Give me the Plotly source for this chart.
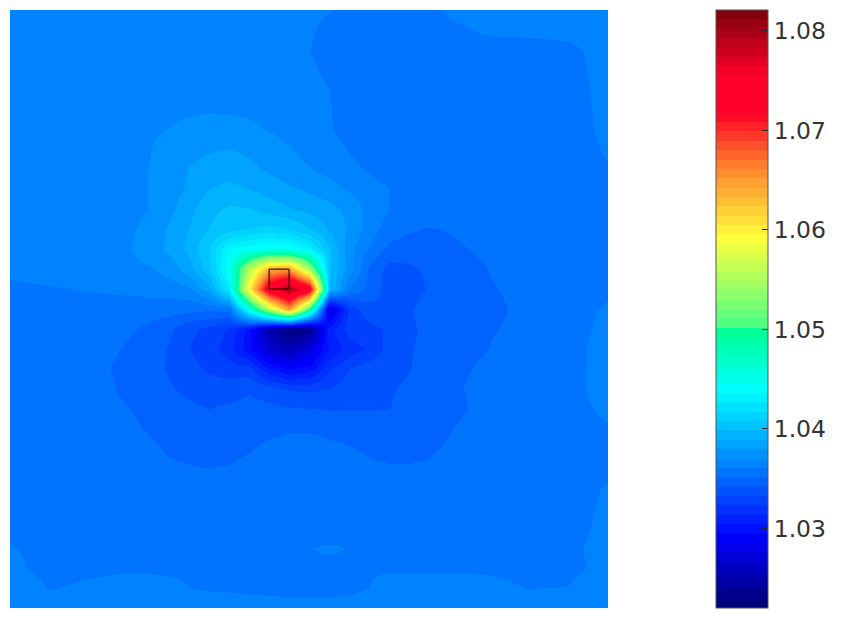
import numpy as np
import plotly.graph_objects as go

# Grid nodes in domain units (domain is 30 x 30, the marked square is one unit wide)
x_nodes = [0, 2, 4, 6, 7, 8, 9, 10, 11, 12, 13, 14, 15, 16, 17, 18, 19, 20, 21, 22, 24, 26, 28, 30]
y_nodes = [0, 2, 4, 6, 7, 8, 9, 10, 11, 12, 13, 14, 15, 16, 17, 18, 19, 20, 21, 22, 24, 26, 27, 28, 29, 30]

# Values, as (z - 1) * 10000, top row first
r00 = [366,366,366,366,366,366,366,366,366,366,365,364,362,361,359,358,358,358,359,362,366,367,367,367]
r02 = [366,366,366,366,366,366,366,366,366,365,364,363,361,358,357,357,356,356,356,356,358,358,359,364]
r04 = [366,366,366,366,367,367,366,366,366,366,365,364,363,361,358,357,356,356,356,356,356,356,357,364]
r06 = [366,366,366,367,369,370.5,372.5,373.5,373,372,370,367,364,361.5,358,356,355,355,355,355,355,355,357,363]
r07 = [366,366,367,368,370,374,377,379,380,378,375,371,367,364,360.5,357,355,354,354,354,354,354,356,362]
r08 = [366,366,367,369,370.5,375,380,383,385,382,378,374,371,367,363,360,357,355,354,354,354,354,354,360]
r09 = [366,366,366,368,370.5,376,381,389,392,389,385,381,378,374,369,364,361,357,356,355,354,354,354,359]
r10 = [366,366,366,368,370.5,377,386,396,400,399,394,390,386,383,377,367,360.5,357,356,355,354,354,354,358]
r11 = [366,366,366,369,373,381,389.5,399,404,408,411,408,399,388,378,366,356,352.5,351,352,354,354,354,358]
r12 = [365,366,367,370,376,381.5,392,408,436,443,448,445,432,400,373,360,349,347.5,347.5,350,353,354,354,360]
r13 = [363,365,366,368,369,374,385,405,445,553,640,650,546,400,375,350,338,340,344,348,351.5,354,354,361]
r14 = [359,360,361.5,363,364,365,368,385,428,595,750,800,745,400,360,349,337,338,343,347,351,353,354,358]
r15 = [358,358,357,356,355.5,355.5,354.5,353.5,356,450,555,650,500,270,326,338,341,341,347,349,350,353,355,363]
r16 = [358,357,356,352.5,349,344,335,330,322,300,250,225,232,310,328,330,334,340,345,348,351,353,354,366]
r17 = [358,357,356,350,347,341,332.5,328,318,298,268,255,275,305,318,325,336,341,346,349,351.5,354,355,368]
r18 = [358,357,355,348,345,341,336,331,328,328,305,295,300,322,333,338,339,341.5,347,350,352.5,355,355,368]
r19 = [358,357,356,349,346,343,340,338,338,341,338,332,331,333,337,340,341,344,347,350,354,356,356,367]
r20 = [358,357,356,351.5,349,347,344,342,344,345,344,343,342.5,341.5,341.5,341.5,342,345,347,349,354,357,357,363]
r21 = [358,357,356,353,350.5,349,348,347,348,349,350,351,351,350,349,348,348,348,349,351,356,357,358,360]
r22 = [358,358,357,355,353,350.5,349.5,349,349.5,351,353,354,354,353,352,350.5,350,350,350.5,352.5,356,358,359,358]
r24 = [358,358,358,358,358,355,354.5,354,354.5,356,358,358,358,358,358,355,354,354,354.5,356,358,358,358,361.5]
r26 = [360,359,359,359,359,359,359,359,359,359,359,359,359,359,359,359,359,359,359,359,359,359,358,363]
r27 = [361,360,360,360,360,360,360,360,360,360,360,360,360.8,361.3,360.8,360,360,360,360,360,360,360,359,364]
r28 = [362,359,359.5,360,360,360,360,360,360,360,360,360,360,360,360,360,360,360,360,360,360,359,359,363]
r29 = [365,360.5,362,364,363,362,361,360,359.8,359.5,359,358.5,358.5,358.5,359,361,364,364,364,364,362.5,360.8,361,368]
r30 = [366,366,366,366,366,366,366,366,365,364,364,364,364,364,364,365,366,366,366,366,366,366,366,368]

rows = [r00, r02, r04, r06, r07, r08, r09, r10, r11, r12, r13, r14, r15, r16, r17,
        r18, r19, r20, r21, r22, r24, r26, r27, r28, r29, r30]
z = 1 + np.array(rows, dtype=float) / 1e4

tick_values = [1.03, 1.04, 1.05, 1.06, 1.07, 1.08]
z_min, z_max = 1.022, 1.0821
marked_cell = [13, 14, 13, 14]

# Colour map anchors (position along the bar, r, g, b)
cmap_pos = [0.0, 0.01, 0.1185, 0.239, 0.364, 0.461, 0.477, 0.618, 0.74, 0.828, 0.89, 1.0]
cmap_r = [0, 0, 0, 0, 0, 0, 85, 255, 255, 255, 255, 125]
cmap_g = [0, 0, 0, 128, 255, 255, 255, 255, 128, 0, 0, 0]
cmap_b = [120, 125, 255, 255, 255, 150, 130, 60, 45, 40, 40, 10]

colorscale = []
for k in range(64):
    t = (k + 0.5) / 64
    c = "rgb({:.0f},{:.0f},{:.0f})".format(np.interp(t, cmap_pos, cmap_r),
                                           np.interp(t, cmap_pos, cmap_g),
                                           np.interp(t, cmap_pos, cmap_b))
    colorscale.append([k / 64, c])
    colorscale.append([(k + 1) / 64, c])

fig = go.Figure(go.Heatmap(
    x=x_nodes, y=y_nodes, z=z, zmin=z_min, zmax=z_max, zsmooth="best",
    colorscale=colorscale, hoverinfo="skip",
    colorbar=dict(
        x=(715.5 - 10) / 598, xanchor="left", y=1.0, yanchor="top",
        lenmode="fraction", len=1.0, thickness=52, thicknessmode="pixels",
        xpad=0, ypad=0, outlinecolor="#555555", outlinewidth=1,
        tickmode="array", tickvals=tick_values, tickformat=".2f",
        ticks="inside", ticklen=6, tickcolor="#262626", tickwidth=1,
        tickprefix="\u2009",
        tickfont=dict(family="DejaVu Sans", size=23.5, color="#333333"),
    ),
))
fig.add_shape(type="rect", x0=marked_cell[0], x1=marked_cell[1], y0=marked_cell[2], y1=marked_cell[3],
              line=dict(color="black", width=1), fillcolor="rgba(0,0,0,0)")
fig.update_xaxes(visible=False, range=[0, 30], constrain="domain")
fig.update_yaxes(visible=False, range=[30, 0])
fig.update_layout(width=856, height=619, margin=dict(l=2, r=256, t=2, b=19),
                  paper_bgcolor="white", plot_bgcolor="white")
fig.write_html("out.html")
